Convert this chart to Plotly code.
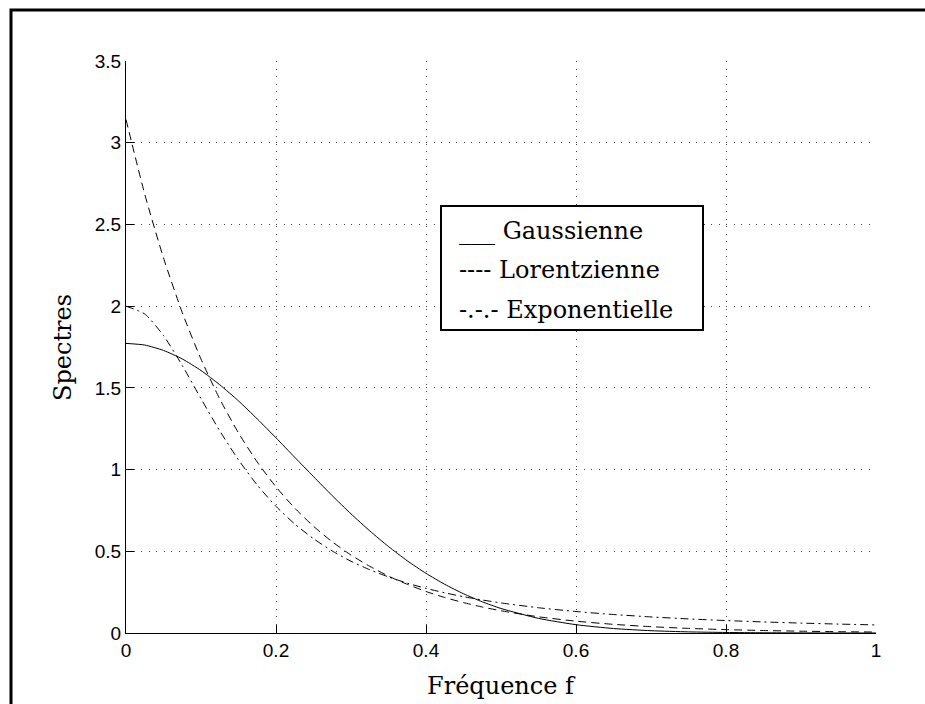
import plotly.graph_objects as go

# Frequency grid (f) and the three spectra
freq = [0.0, 0.025, 0.05, 0.075, 0.1, 0.125, 0.15, 0.175, 0.2, 0.225, 0.25,
        0.275, 0.3, 0.325, 0.35, 0.375, 0.4, 0.425, 0.45, 0.475, 0.5,
        0.55, 0.6, 0.65, 0.7, 0.75, 0.8, 0.85, 0.9, 0.95, 1.0]

gaussienne = [1.772, 1.762, 1.729, 1.677, 1.606, 1.519, 1.420, 1.310, 1.194, 1.075, 0.957,
              0.840, 0.729, 0.625, 0.529, 0.442, 0.365, 0.298, 0.240, 0.191, 0.150,
              0.0895, 0.0508, 0.0274, 0.0141, 0.0069, 0.0032, 0.0014, 0.0006, 0.0002, 0.0001]

lorentzienne = [3.142, 2.685, 2.295, 1.961, 1.676, 1.432, 1.224, 1.046, 0.894, 0.764, 0.653,
                0.558, 0.477, 0.408, 0.348, 0.298, 0.254, 0.217, 0.186, 0.159, 0.136,
                0.0992, 0.0724, 0.0529, 0.0386, 0.0282, 0.0206, 0.0151, 0.0110, 0.0080, 0.0059]

exponentielle = [2.000, 1.952, 1.820, 1.637, 1.434, 1.237, 1.059, 0.905, 0.775, 0.667, 0.577,
                 0.502, 0.439, 0.387, 0.343, 0.305, 0.273, 0.246, 0.222, 0.202, 0.184,
                 0.1545, 0.1315, 0.1131, 0.0983, 0.0862, 0.0761, 0.0677, 0.0606, 0.0546, 0.0494]

x_ticks = [0, 0.2, 0.4, 0.6, 0.8, 1]
x_tick_labels = ["0", "0.2", "0.4", "0.6", "0.8", "1"]
y_ticks = [0, 0.5, 1, 1.5, 2, 2.5, 3, 3.5]
y_tick_labels = ["0", "0.5", "1", "1.5", "2", "2.5", "3", "3.5"]

legend_lines = ["___ Gaussienne", "---- Lorentzienne", "-.-.- Exponentielle"]

SERIF = "DejaVu Serif, Liberation Serif, serif"
SANS = "Liberation Sans, Arial, sans-serif"

fig = go.Figure()
fig.add_trace(go.Scatter(x=freq, y=gaussienne, mode="lines",
                         line=dict(color="black", width=1, shape="spline", smoothing=0.6)))
fig.add_trace(go.Scatter(x=freq, y=lorentzienne, mode="lines",
                         line=dict(color="black", width=1, dash="8px,5px",
                                   shape="spline", smoothing=0.6)))
fig.add_trace(go.Scatter(x=freq, y=exponentielle, mode="lines",
                         line=dict(color="black", width=1, dash="8px,4px,2px,4px",
                                   shape="spline", smoothing=0.6)))

axis_common = dict(
    showline=True, linecolor="black", linewidth=1, mirror=False,
    ticks="inside", ticklen=8, tickwidth=1, tickcolor="black",
    showgrid=True, gridcolor="#444444", gridwidth=1, griddash="1px,6.5px",
    zeroline=False, tickfont=dict(family=SANS, size=19, color="black"),
)

fig.update_xaxes(range=[0, 1], tickvals=x_ticks, ticktext=x_tick_labels, **axis_common)
fig.update_yaxes(range=[0, 3.5], tickvals=y_ticks, ticktext=y_tick_labels, **axis_common)

L, R, T, B = 126, 49, 61, 71
W, H = 925, 704
pw, ph = W - L - R, H - T - B


def px_x(px):
    return (px - L) / pw


def px_y(py):
    return (H - B - py) / ph


shapes = [
    # figure frame
    dict(type="rect", xref="paper", yref="paper",
         x0=px_x(11), x1=px_x(940), y0=px_y(10), y1=px_y(720),
         line=dict(color="black", width=3), fillcolor="rgba(0,0,0,0)", layer="above"),
    # legend box
    dict(type="rect", xref="paper", yref="paper",
         x0=px_x(441), x1=px_x(703), y0=px_y(206), y1=px_y(330),
         line=dict(color="black", width=2), fillcolor="white", layer="above"),
]

annotations = []
for text, py in zip(legend_lines, [231, 270, 310]):
    annotations.append(dict(text=text, xref="paper", yref="paper",
                            x=px_x(457), y=px_y(py), xanchor="left", yanchor="middle",
                            showarrow=False, font=dict(family=SERIF, size=24, color="black")))

annotations.append(dict(text="Fréquence f", xref="paper", yref="paper",
                        x=0.5, y=px_y(686), xanchor="center", yanchor="middle",
                        showarrow=False, font=dict(family=SERIF, size=24, color="black")))
annotations.append(dict(text="Spectres", xref="paper", yref="paper",
                        x=px_x(63), y=0.5, xanchor="center", yanchor="middle", textangle=-90,
                        showarrow=False, font=dict(family=SERIF, size=24, color="black")))

fig.update_layout(
    width=W, height=H,
    margin=dict(l=L, r=R, t=T, b=B),
    paper_bgcolor="white", plot_bgcolor="white",
    showlegend=False,
    shapes=shapes,
    annotations=annotations,
)

fig.write_html("out.html")
